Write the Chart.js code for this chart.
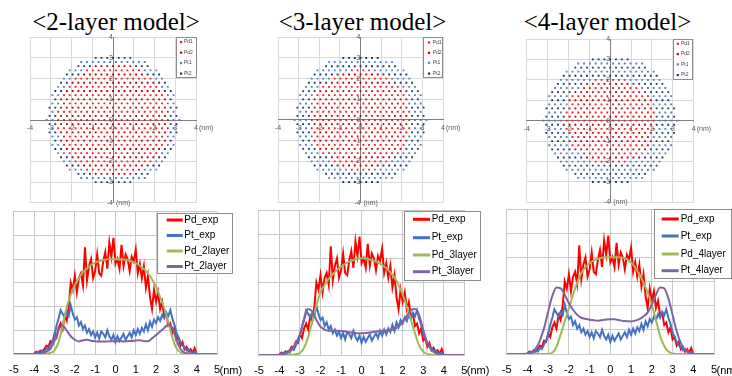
<!DOCTYPE html>
<html>
<head>
<meta charset="utf-8">
<script src="https://cdn.jsdelivr.net/npm/chart.js@4.4.1/dist/chart.umd.min.js"></script>
<style>
  body { margin: 0; width: 732px; height: 376px; overflow: hidden; background: #fff; position: relative; font-family: "Liberation Sans", Arial, sans-serif; }
  canvas { position: absolute; }
  .title { position: absolute; width: 220px; text-align: center; font-family: "Liberation Serif", "DejaVu Serif", serif; font-size: 25px; line-height: 25px; color: #000; white-space: nowrap; }
  .unit { position: absolute; white-space: nowrap; }
  .unit.small { font-size: 7px; line-height: 8px; color: #595959; }
  .unit.big { font-size: 11px; line-height: 12px; color: #000; }
</style>
</head>
<body>
<script>
// ---- data ----
const panelTitles = ['<2-layer model>', '<3-layer model>', '<4-layer model>'];
const atomSeries = ['Pd1', 'Pd2', 'Pt1', 'Pt2'];
const atomCodes = ['r', 'R', 'b', 'B'];
const atomColors = ['#FF1A1A', '#C00000', '#4F81BD', '#1F3864'];

// projected lattice, rows from y = 3.0 nm down to -3.0 nm, run-length coded
// r = Pd1, R = Pd2, b = Pt1, B = Pt2
const topRowY = 3.0;
const rowStep = 0.2;
const siteStep = 0.139;
const atoms2layer = [
  '7B', '12b', '3B7R3B', '3b10r3b', '3B11R3B', '2b14r2b', '2B15R2B', '2b16r2b',
  '2B17R2B', '2b18r2b', '1B19R1B', '2b18r2b', '2B19R2B', '1b20r1b', '2B19R2B', '2b20r2b',
  '2B19R2B', '1b20r1b', '2B19R2B', '2b18r2b', '1B19R1B', '2b18r2b', '2B17R2B', '2b16r2b',
  '2B15R2B', '2b14r2b', '3B11R3B', '3b10r3b', '3B7R3B', '12b', '7B'
];
const atoms3layer = [
  '7B', '12b', '13B', '6b4r6b', '5B7R5B', '4b10r4b', '4B11R4B', '3b14r3b',
  '3B15R3B', '3b16r3b', '2B17R2B', '3b16r3b', '3B17R3B', '2b18r2b', '3B17R3B', '3b18r3b',
  '3B17R3B', '2b18r2b', '3B17R3B', '3b16r3b', '2B17R2B', '3b16r3b', '3B15R3B', '3b14r3b',
  '4B11R4B', '4b10r4b', '5B7R5B', '6b4r6b', '13B', '12b', '7B'
];
const atoms4layer = [
  '7B', '12b', '13B', '16b', '17B', '6b6r6b', '5B9R5B', '5b10r5b',
  '4B13R4B', '4b14r4b', '3B15R3B', '4b14r4b', '4B15R4B', '3b16r3b', '4B15R4B', '4b16r4b',
  '4B15R4B', '3b16r3b', '4B15R4B', '4b14r4b', '3B15R3B', '4b14r4b', '4B13R4B', '5b10r5b',
  '5B9R5B', '6b6r6b', '17B', '16b', '13B', '12b', '7B'
];

// line profiles
const expX = [-4.0,-3.9,-3.8,-3.7,-3.6,-3.5,-3.4,-3.3,-3.2,-3.1,-3.0,-2.9,-2.8,-2.7,-2.6,-2.5,-2.4,-2.3,-2.2,-2.1,
  -2.0,-1.9,-1.8,-1.7,-1.6,-1.5,-1.4,-1.3,-1.2,-1.1,-1.0,-0.9,-0.8,-0.7,-0.6,-0.5,-0.4,-0.3,-0.2,-0.1,
  0,0.1,0.2,0.3,0.4,0.5,0.6,0.7,0.8,0.9,1.0,1.1,1.2,1.3,1.4,1.5,1.6,1.7,1.8,1.9,
  2.0,2.1,2.2,2.3,2.4,2.5,2.6,2.7,2.8,2.9,3.0,3.1,3.2,3.3,3.4,3.5,3.6,3.7,3.8,3.9,4.0];
const pdExp = [0.02,0.1,0.05,0.15,0.1,0.2,0.35,0.3,0.55,0.5,
  0.85,0.7,1.1,1.3,1.05,1.6,1.4,2.0,3.0,2.7,
  3.3,2.6,3.2,3.4,2.9,4.5,3.1,3.7,4.0,3.2,
  3.5,4.2,3.4,3.3,3.9,4.3,3.6,4.7,4.1,4.9,
  3.8,4.0,3.6,4.6,3.7,4.2,4.0,3.5,4.1,3.9,
  4.4,3.4,3.8,3.2,3.7,2.8,3.3,2.4,1.9,2.7,
  2.2,2.6,1.9,2.2,1.6,1.7,1.2,1.3,0.9,1.1,
  0.6,0.7,0.35,0.5,0.2,0.3,0.1,0.2,0.05,0.25,
  0.0];
const ptExp = [0.0,0.05,0.1,0.05,0.15,0.1,0.25,0.2,0.4,0.55,
  0.8,1.2,1.5,1.85,1.7,1.55,1.75,1.6,2.05,1.7,
  1.45,1.55,1.2,1.35,1.05,1.2,0.9,1.05,0.8,0.95,
  0.7,0.9,0.65,0.95,0.85,0.7,1.0,0.75,0.6,0.8,
  0.5,0.75,0.55,0.7,0.85,0.6,0.75,0.9,0.7,1.0,
  0.8,1.05,0.85,1.1,0.95,1.25,1.0,1.35,1.15,1.45,
  1.3,1.55,1.4,1.65,1.5,1.75,1.6,1.85,1.5,1.25,
  0.9,0.7,0.5,0.35,0.3,0.15,0.2,0.1,0.05,0.1,
  0.0];

const modelX = [-5,
  -4.0,-3.8,-3.6,-3.4,-3.2,-3.0,-2.8,-2.6,-2.4,-2.2,
  -2.0,-1.8,-1.6,-1.4,-1.2,-1.0,-0.8,-0.6,-0.4,-0.2,
  0,
  0.2,0.4,0.6,0.8,1.0,1.2,1.4,1.6,1.8,2.0,
  2.2,2.4,2.6,2.8,3.0,3.2,3.4,3.6,3.8,4.0,
  5];
const pd2layer = [0,
  0,0,0,0.02,0.05,0.15,0.5,1.2,1.95,2.5,
  2.9,3.2,3.45,3.6,3.75,3.85,3.92,3.96,3.99,4.0,
  4.0,
  4.0,3.98,3.95,3.9,3.83,3.72,3.58,3.4,3.15,2.85,
  2.4,1.95,1.35,0.7,0.25,0.07,0.02,0,0,0,
  0];
const pt2layer = [0,
  0,0.01,0.03,0.1,0.22,0.55,1.0,1.2,0.98,0.75,
  0.6,0.53,0.58,0.6,0.56,0.54,0.53,0.53,0.53,0.54,
  0.54,
  0.54,0.53,0.54,0.55,0.57,0.58,0.55,0.54,0.66,0.8,
  0.95,1.1,1.23,1.1,0.6,0.22,0.06,0.02,0,0,
  0];
const pd3layer = [0,
  0,0,0,0.01,0.03,0.08,0.3,0.75,1.4,2.07,
  2.6,2.9,3.15,3.35,3.52,3.66,3.77,3.86,3.93,3.98,
  4.0,
  3.99,3.95,3.9,3.82,3.72,3.6,3.42,3.2,2.9,2.5,
  2.0,1.45,0.9,0.4,0.14,0.04,0.01,0,0,0,
  0];
const pt3layer = [0,
  0,0.02,0.1,0.25,0.5,0.85,1.45,1.9,1.8,1.45,
  1.17,1.05,1.0,1.0,1.0,0.99,0.97,0.94,0.92,0.9,
  0.9,
  0.91,0.93,0.96,0.98,1.0,1.01,1.02,1.07,1.17,1.38,
  1.62,1.85,1.9,1.65,1.05,0.5,0.2,0.08,0.02,0,
  0];
const pd4layer = [0,
  0,0,0,0,0,0.01,0.05,0.3,0.8,1.35,
  1.9,2.45,2.95,3.35,3.6,3.75,3.87,3.94,3.98,4.0,
  4.0,
  4.0,4.0,3.98,3.93,3.78,3.58,3.3,2.95,2.55,2.04,
  1.4,0.75,0.32,0.1,0.02,0,0,0,0,0,
  0];
const pt4layer = [0,
  0.01,0.05,0.22,0.55,1.07,1.76,2.4,2.75,2.72,2.45,
  2.1,1.83,1.62,1.5,1.46,1.42,1.4,1.38,1.4,1.43,
  1.44,
  1.44,1.41,1.37,1.36,1.35,1.38,1.44,1.55,1.72,2.04,
  2.45,2.75,2.72,2.3,1.62,0.94,0.45,0.18,0.04,0,
  0];

const profileLabels = [
  ['Pd_exp', 'Pt_exp', 'Pd_2layer', 'Pt_2layer'],
  ['Pd_exp', 'Pt_exp', 'Pd_3layer', 'Pt_3layer'],
  ['Pd_exp', 'Pt_exp', 'Pd_4layer', 'Pt_4layer']
];
const profileColors = ['#FF0000', '#4472C4', '#9BBB59', '#8064A2'];
const atomMaps = [atoms2layer, atoms3layer, atoms4layer];
const modelCurves = [[pd2layer, pt2layer], [pd3layer, pt3layer], [pd4layer, pt4layer]];

// ---- layout (page pixels) ----
const scatterLayout = [
  { canvas: [0, 30, 244, 180], area: [30, 37, 196, 203], legend: { box: [176, 37, 21, 41], rows: [42, 52.5, 63, 73.5], symX: 181, textX: 184 }, title: 116 },
  { canvas: [245, 30, 245, 180], area: [278, 37.3, 443, 202.7], legend: { box: [422.7, 37.3, 20, 41], rows: [42.3, 52.7, 62.7, 73.5], symX: 429, textX: 432.7 }, title: 362.5 },
  { canvas: [490, 30, 242, 180], area: [526.7, 39, 693.7, 202.4], legend: { box: [672.7, 39, 19.6, 41], rows: [43.7, 54, 64.3, 75], symX: 677.7, textX: 681 }, title: 607.5 }
];
const profileLayout = [
  { canvas: [0, 205, 244, 171], area: [10, 211.7, 217, 354], legend: { box: [157, 213, 76, 61], rows: [220, 235.5, 251, 266.5], symX: 166.7, symW: 16, textX: 184.3 } },
  { canvas: [245, 205, 245, 171], area: [256.7, 210, 464.3, 355], legend: { box: [404.3, 211, 77.4, 70], rows: [219.3, 237.7, 255, 271.7], symX: 413, symW: 17, textX: 431.7 } },
  { canvas: [490, 205, 242, 171], area: [506.7, 209, 714, 354], legend: { box: [654, 209, 77.5, 70], rows: [219, 236, 254, 270.7], symX: 661.7, symW: 17, textX: 680.7 } }
];
const xAxisH = 20;

Chart.defaults.font.family = '"Liberation Sans", Arial, sans-serif';
Chart.defaults.animation = false;

const boxLegend = {
  id: 'boxLegend',
  afterDraw(chart, args, o) {
    if (!o.box) return;
    const ctx = chart.ctx;
    const [bx, by, bw, bh] = o.box;
    ctx.save();
    ctx.fillStyle = '#fff';
    ctx.fillRect(bx, by, bw, bh);
    ctx.strokeStyle = '#8C8C8C';
    ctx.lineWidth = 1;
    ctx.strokeRect(Math.round(bx) + 0.5, Math.round(by) + 0.5, Math.round(bw) - 1, Math.round(bh) - 1);
    ctx.font = o.font;
    ctx.textBaseline = 'middle';
    chart.data.datasets.forEach((ds, i) => {
      const y = o.rows[i];
      if (o.marker) {
        ctx.fillStyle = ds.backgroundColor;
        ctx.fillRect(o.symX - 1, y - 1, 2.2, 2.2);
      } else {
        ctx.strokeStyle = ds.borderColor;
        ctx.lineWidth = 3;
        ctx.beginPath();
        ctx.moveTo(o.symX, y);
        ctx.lineTo(o.symX + o.symW, y);
        ctx.stroke();
      }
      ctx.fillStyle = o.textColor;
      ctx.fillText(ds.label, o.textX, y);
    });
    ctx.restore();
  }
};

function makeCanvas(rect) {
  const c = document.createElement('canvas');
  c.width = rect[2];
  c.height = rect[3];
  c.style.left = rect[0] + 'px';
  c.style.top = rect[1] + 'px';
  c.style.width = rect[2] + 'px';
  c.style.height = rect[3] + 'px';
  document.body.appendChild(c);
  return c;
}

function addText(cls, text, left, top) {
  const d = document.createElement('div');
  d.className = cls;
  d.textContent = text;
  d.style.left = left + 'px';
  d.style.top = top + 'px';
  document.body.appendChild(d);
}

function toLocal(leg, cv) {
  return {
    box: [leg.box[0] - cv[0], leg.box[1] - cv[1], leg.box[2], leg.box[3]],
    rows: leg.rows.map(y => y - cv[1]),
    symX: leg.symX - cv[0],
    symW: leg.symW,
    textX: leg.textX - cv[0]
  };
}

function latticeDatasets(rows) {
  const pts = { r: [], R: [], b: [], B: [] };
  rows.forEach((row, idx) => {
    const seq = [];
    row.replace(/(\d+)([rRbB])/g, (m, n, c) => { for (let i = 0; i < +n; i++) seq.push(c); return m; });
    seq.forEach((c, i) => {
      pts[c].push({ x: (2 * i - (seq.length - 1)) * siteStep, y: topRowY - idx * rowStep });
    });
  });
  return atomSeries.map((name, s) => ({
    label: name,
    data: pts[atomCodes[s]],
    backgroundColor: atomColors[s],
    borderWidth: 0,
    pointStyle: 'rect',
    pointRadius: 1.3
  }));
}

// ---- scatter (atom maps) ----
scatterLayout.forEach((p, k) => {
  const cv = p.canvas, a = p.area;
  const title = document.createElement('div');
  title.className = 'title';
  title.textContent = panelTitles[k];
  title.style.left = (p.title - 110) + 'px';
  title.style.top = '9px';
  document.body.appendChild(title);

  new Chart(makeCanvas(cv), {
    type: 'scatter',
    data: { datasets: latticeDatasets(atomMaps[k]) },
    options: {
      responsive: false,
      layout: { autoPadding: false, padding: { left: a[0] - cv[0], top: a[1] - cv[1], right: cv[0] + cv[2] - a[2], bottom: cv[1] + cv[3] - a[3] } },
      plugins: {
        legend: { display: false },
        tooltip: { enabled: false },
        boxLegend: Object.assign(toLocal(p.legend, cv), { marker: true, font: '5px "Liberation Sans", Arial, sans-serif', textColor: '#404040' })
      },
      scales: {
        x: {
          type: 'linear', position: { y: 0 }, min: -4, max: 4,
          ticks: { stepSize: 1, font: { size: 7 }, color: '#595959', padding: 4 },
          grid: { color: '#D9D9D9', drawTicks: false },
          border: { color: '#7F7F7F' },
          afterFit: s => { s.height = 0; }
        },
        y: {
          type: 'linear', position: { x: 0 }, min: -4, max: 4,
          ticks: { stepSize: 1, font: { size: 7 }, color: '#595959', padding: 3 },
          grid: { color: '#D9D9D9', drawTicks: false },
          border: { color: '#7F7F7F' },
          afterFit: s => { s.width = 0; }
        }
      }
    },
    plugins: [boxLegend]
  });

  const zeroX = (a[0] + a[2]) / 2, zeroY = (a[1] + a[3]) / 2;
  addText('unit small', '(nm)', a[2] + 3, zeroY + 4);
  addText('unit small', '(nm)', zeroX + 3, a[3] - 4);
});

// ---- line profiles ----
profileLayout.forEach((p, k) => {
  const cv = p.canvas, a = p.area;
  const series = [
    { x: expX, y: pdExp, w: 2, smooth: false },
    { x: expX, y: ptExp, w: 2, smooth: false },
    { x: modelX, y: modelCurves[k][0], w: 2, smooth: true },
    { x: modelX, y: modelCurves[k][1], w: 2, smooth: true }
  ];
  new Chart(makeCanvas(cv), {
    type: 'line',
    data: {
      datasets: series.map((s, i) => ({
        label: profileLabels[k][i],
        data: s.x.map((x, j) => ({ x, y: s.y[j] })),
        borderColor: profileColors[i],
        backgroundColor: profileColors[i],
        borderWidth: s.w,
        pointRadius: 0,
        cubicInterpolationMode: s.smooth ? 'monotone' : 'default',
        tension: 0,
        order: 3 - i
      }))
    },
    options: {
      responsive: false,
      layout: { autoPadding: false, padding: { left: a[0] - cv[0], top: a[1] - cv[1], right: cv[0] + cv[2] - a[2], bottom: cv[1] + cv[3] - a[3] - xAxisH } },
      plugins: {
        legend: { display: false },
        tooltip: { enabled: false },
        boxLegend: Object.assign(toLocal(p.legend, cv), { marker: false, font: '10px "Liberation Sans", Arial, sans-serif', textColor: '#000' })
      },
      scales: {
        x: {
          type: 'linear', min: -5, max: 5,
          ticks: { stepSize: 1, font: { size: 11 }, color: '#000', padding: 9, maxRotation: 0, autoSkip: false },
          grid: { color: '#C8C8C8', drawTicks: false },
          border: { color: '#C8C8C8' },
          afterFit: s => { s.height = xAxisH; }
        },
        y: {
          min: 0, max: 6,
          ticks: { stepSize: 1, display: false },
          grid: { color: '#C8C8C8', drawTicks: false },
          border: { color: '#C8C8C8' },
          afterFit: s => { s.width = 0; }
        }
      }
    },
    plugins: [boxLegend]
  });
  addText('unit big', '(nm)', a[2] + 2.5, 364);
});
</script>
</body>
</html>
